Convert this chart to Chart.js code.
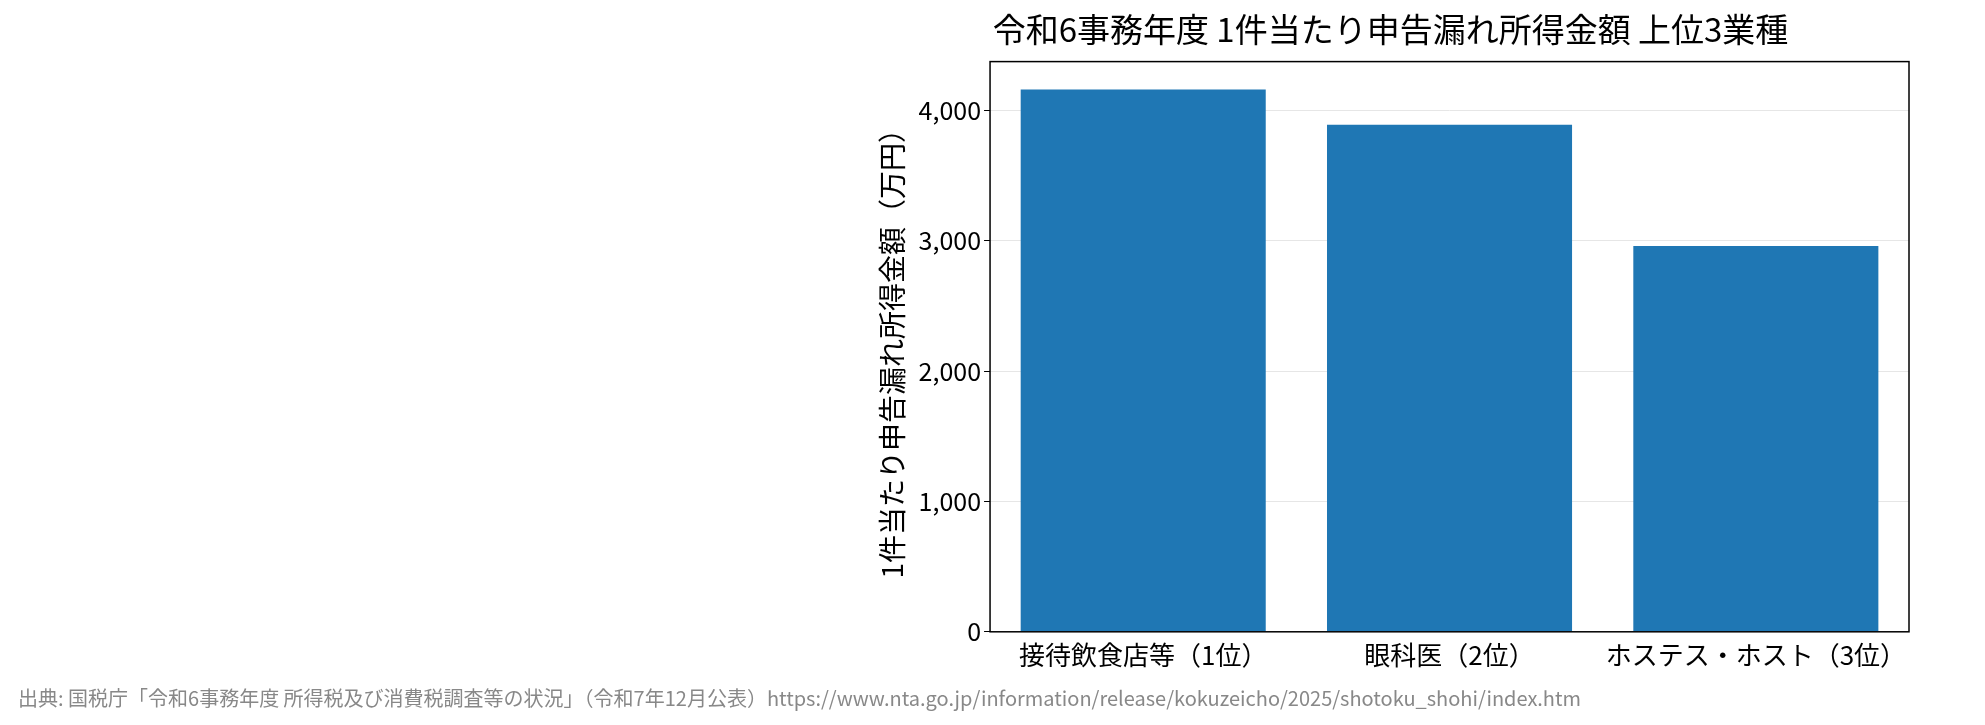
<!DOCTYPE html>
<html><head><meta charset="utf-8">
<script src="https://cdn.jsdelivr.net/npm/chart.js@4"></script>
<style>
html,body{margin:0;padding:0;background:#fff;}
#wrap{position:relative;width:1985px;height:725px;}
#src{position:absolute;left:18px;top:683px;font:20px "Noto Sans CJK JP";color:#888;white-space:nowrap;}
</style></head><body>
<div id="wrap"><canvas id="c" width="1985" height="725"></canvas>
<div id="src">出典: 国税庁「令和6事務年度 所得税及び消費税調査等の状況」（令和7年12月公表）https://www.nta.go.jp/information/release/kokuzeicho/2025/shotoku_shohi/index.htm</div></div>
<script>
// データ
const categories = ['接待飲食店等（1位）', '眼科医（2位）', 'ホステス・ホスト（3位）'];
const amounts = [4160, 3890, 2960];
const yTicks = [0, 1000, 2000, 3000, 4000];

const font = 'Noto Sans CJK JP';
Chart.defaults.font.family = font;
Chart.defaults.color = '#000';

// 枠線
const frame = {
    id: 'frame',
    afterDatasetsDraw(chart) {
        const { ctx, chartArea: a } = chart;
        ctx.save();
        ctx.strokeStyle = '#000';
        ctx.lineWidth = 1.5;
        ctx.strokeRect(a.left, a.top, a.right - a.left, a.bottom - a.top);
        ctx.restore();
    }
};

new Chart(document.getElementById('c'), {
    type: 'bar',
    data: { labels: categories, datasets: [{ data: amounts, backgroundColor: '#1f77b4', categoryPercentage: 1, barPercentage: 0.8 }] },
    options: {
        responsive: false, animation: false,
        layout: { padding: { left: 872, right: 76, top: 0, bottom: 52 } },
        plugins: {
            legend: { display: false },
            title: { display: true, text: '令和6事務年度 1件当たり申告漏れ所得金額 上位3業種', font: { size: 33, weight: 'normal' }, color: '#000', padding: { top: 10, bottom: 12 } }
        },
        scales: {
            x: {
                grid: { display: false, drawTicks: true, tickLength: 6, tickColor: '#000' },
                border: { display: false },
                ticks: { font: { size: 26 }, color: '#000', maxRotation: 0, autoSkip: false, padding: 2 }
            },
            y: {
                min: 0, max: 4375,
                afterBuildTicks: s => { s.ticks = yTicks.map(v => ({ value: v })); },
                grid: { color: '#e6e6e6', tickColor: '#000', tickLength: 6 },
                border: { display: false },
                ticks: { font: { size: 25 }, color: '#000', callback: v => v.toLocaleString('en-US') },
                title: { display: true, text: '1件当たり申告漏れ所得金額（万円）', font: { size: 28 }, color: '#000', padding: { bottom: 6 } }
            }
        }
    },
    plugins: [frame]
});
</script></body></html>
